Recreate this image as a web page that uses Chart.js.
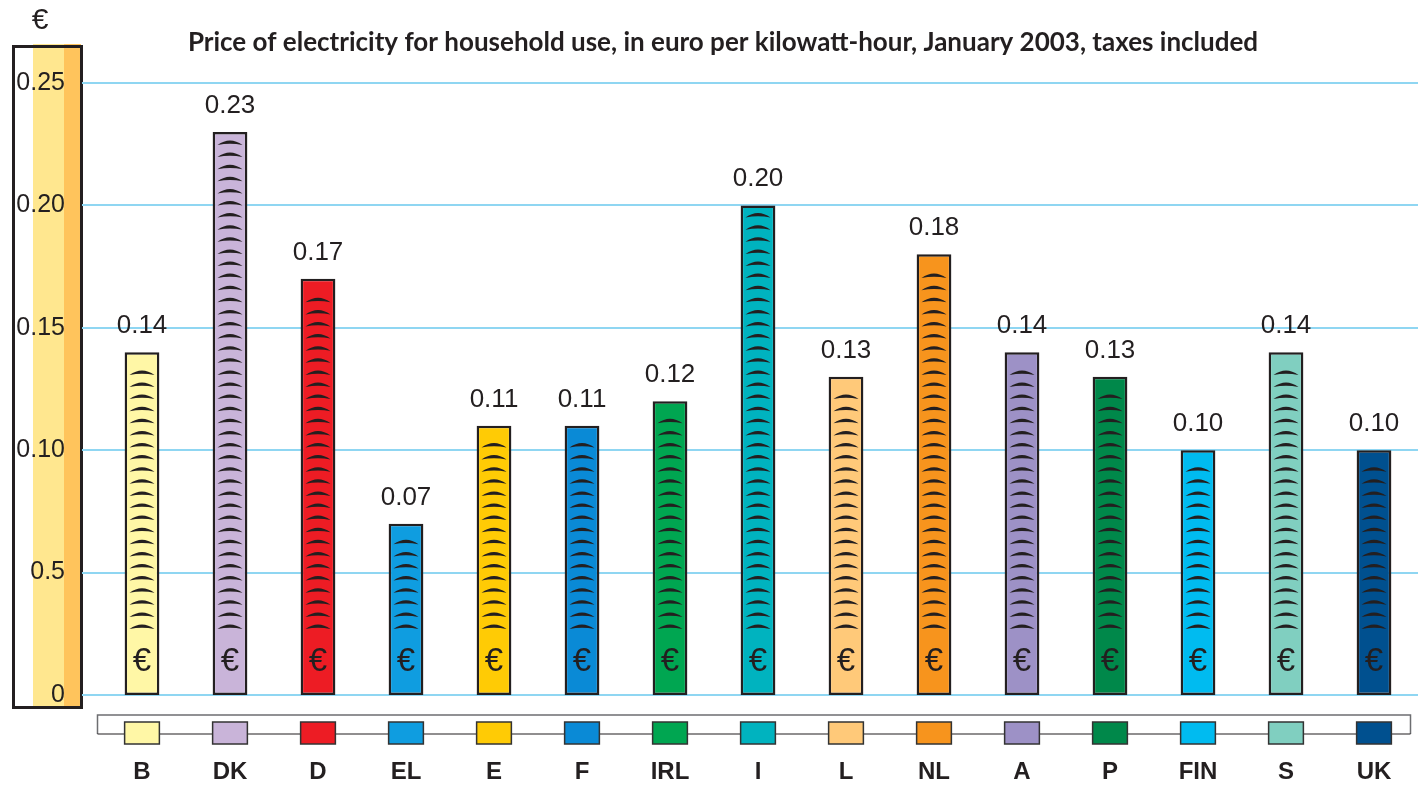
<!DOCTYPE html>
<html>
<head>
<meta charset="utf-8">
<script src="https://cdn.jsdelivr.net/npm/chart.js@4.4.1/dist/chart.umd.min.js"></script>
<style>
  html, body { margin: 0; padding: 0; background: #ffffff; }
  #wrap { width: 1418px; height: 786px; position: relative; }
</style>
</head>
<body>
<div id="wrap"><canvas id="chart" width="1418" height="786"></canvas></div>
<script>
// Household electricity prices, euro per kWh, January 2003, taxes included
const countries = ['B', 'DK', 'D', 'EL', 'E', 'F', 'IRL', 'I', 'L', 'NL', 'A', 'P', 'FIN', 'S', 'UK'];
const prices = [0.14, 0.23, 0.17, 0.07, 0.11, 0.11, 0.12, 0.20, 0.13, 0.18, 0.14, 0.13, 0.10, 0.14, 0.10];
const barColors = ['#fff7a6', '#c9b4d9', '#ed1c24', '#0f9de0', '#ffcb05', '#0a8ad6', '#00a651', '#00b3bf',
                   '#ffc979', '#f7941d', '#9d91c6', '#00884a', '#00bbf0', '#80cfc0', '#00508f'];
const yTickLabels = ['0', '0.5', '0.10', '0.15', '0.20', '0.25'];
const titleText = 'Price of electricity for household use, in euro per kilowatt-hour, January 2003, taxes included';

const INK = '#231f20';
const GRID = '#8fd6f2';

// Euro column on the left: white/yellow/orange band in a black frame, title and grid
const axisBand = {
  id: 'axisBand',
  beforeDraw(chart) {
    const ctx = chart.ctx;
    ctx.save();
    ctx.fillStyle = '#ffe78f';
    ctx.fillRect(33, 44, 31, 664);
    ctx.fillStyle = '#ffc45c';
    ctx.fillRect(64, 44, 17, 664);
    ctx.strokeStyle = INK;
    ctx.lineWidth = 3;
    ctx.strokeRect(13.5, 46.5, 68, 661);
    ctx.fillStyle = INK;
    ctx.font = '30px "Liberation Sans", Arial, sans-serif';
    ctx.textAlign = 'center';
    ctx.textBaseline = 'middle';
    ctx.fillText('€', 40, 21);
    // title
    ctx.font = 'bold 26px Lato, "Open Sans", sans-serif';
    ctx.fillText(titleText, 723, 43, 1072);
    // horizontal grid lines at each tick
    const ys = chart.scales.y;
    ctx.strokeStyle = GRID;
    ctx.lineWidth = 2;
    ys.ticks.forEach(t => {
      const py = Math.round(ys.getPixelForValue(t.value));
      ctx.beginPath();
      ctx.moveTo(82, py);
      ctx.lineTo(1418, py);
      ctx.stroke();
    });
    ctx.restore();
  }
};

// Crescent strokes and euro sign inside each bar, value labels above, legend strip below
const barDecor = {
  id: 'barDecor',
  afterDatasetsDraw(chart) {
    const ctx = chart.ctx;
    const meta = chart.getDatasetMeta(0);
    ctx.save();
    meta.data.forEach((bar, i) => {
      const cx = bar.x;
      const top = bar.y;
      const base = bar.base;
      // crescents, anchored from the base upward
      ctx.fillStyle = INK;
      for (let ay = base - 66; ay > top + 12; ay -= 12.1) {
        ctx.beginPath();
        ctx.moveTo(cx - 12.5, ay);
        ctx.quadraticCurveTo(cx, ay - 9, cx + 12.5, ay);
        ctx.quadraticCurveTo(cx, ay - 2.5, cx - 12.5, ay);
        ctx.closePath();
        ctx.fill();
      }
      if (base - top > 45) {
        ctx.font = '33px "Liberation Sans", Arial, sans-serif';
        ctx.textAlign = 'center';
        ctx.textBaseline = 'middle';
        ctx.fillText('€', cx, base - 33);
      }
      // value label
      ctx.fillStyle = INK;
      ctx.font = '26px "Liberation Sans", Arial, sans-serif';
      ctx.textAlign = 'center';
      ctx.textBaseline = 'alphabetic';
      ctx.fillText(prices[i].toFixed(2), cx, top - 19);
    });

    // legend strip
    const left = 97.5, right = 1410.5;
    ctx.strokeStyle = '#6d6e71';
    ctx.lineWidth = 1.5;
    ctx.beginPath();
    ctx.moveTo(left, 734);
    ctx.lineTo(left, 715);
    ctx.lineTo(right, 715);
    ctx.lineTo(right, 734);
    ctx.stroke();
    ctx.strokeStyle = INK;
    ctx.lineWidth = 1.2;
    ctx.beginPath();
    ctx.moveTo(left, 734);
    ctx.lineTo(right, 734);
    ctx.stroke();
    meta.data.forEach((bar, i) => {
      const w = bar.width;
      ctx.fillStyle = barColors[i];
      ctx.fillRect(bar.x - w / 2, 722, w, 22);
      ctx.strokeStyle = '#333333';
      ctx.lineWidth = 1.5;
      ctx.strokeRect(bar.x - w / 2, 722, w, 22);
    });
    ctx.restore();
  }
};

new Chart(document.getElementById('chart'), {
  type: 'bar',
  data: {
    labels: countries,
    datasets: [{
      data: prices,
      backgroundColor: barColors,
      borderColor: INK,
      borderWidth: 2.5,
      borderSkipped: false,
      categoryPercentage: 1,
      barPercentage: 0.395
    }]
  },
  options: {
    responsive: false,
    animation: false,
    events: [],
    layout: { padding: { top: 83, right: 0, left: 0, bottom: 0 } },
    plugins: {
      legend: { display: false },
      title: { display: false },
      tooltip: { enabled: false }
    },
    scales: {
      x: {
        grid: { display: false, drawTicks: false },
        border: { display: false },
        ticks: {
          padding: 63,
          color: INK,
          font: { family: '"Liberation Sans", Arial, sans-serif', size: 24, weight: 'bold' }
        },
        afterFit(scale) {
          scale.height = 91;
          scale.paddingLeft = 0;
          scale.paddingRight = 0;
        }
      },
      y: {
        min: 0,
        max: 0.25,
        grid: { display: false, drawTicks: false },
        border: { display: false },
        ticks: {
          stepSize: 0.05,
          padding: 33,
          color: INK,
          font: { family: '"Liberation Sans", Arial, sans-serif', size: 25 },
          callback(value, index) { return yTickLabels[index]; }
        },
        afterFit(scale) { scale.width = 98; }
      }
    }
  },
  plugins: [axisBand, barDecor]
});
</script>
</body>
</html>
